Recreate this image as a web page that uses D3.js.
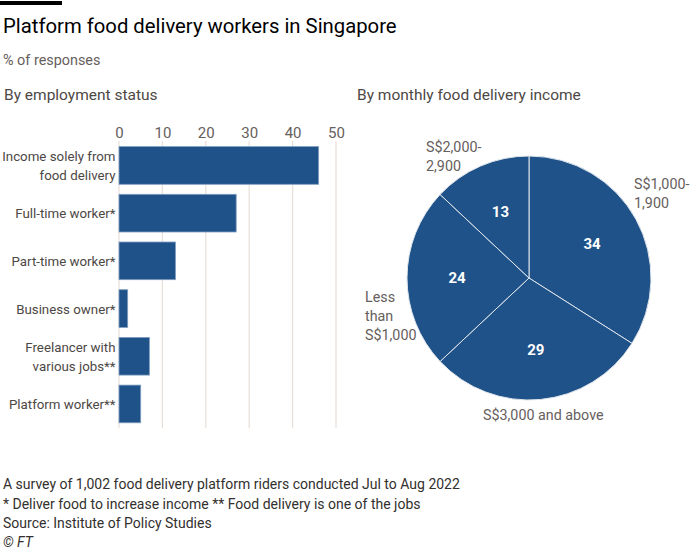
<!DOCTYPE html>
<html>
<head>
<meta charset="utf-8">
<script src="https://cdn.jsdelivr.net/npm/d3@7"></script>
<style>
  html, body { margin: 0; padding: 0; background: #ffffff; }
  svg { display: block; font-family: Roboto, "Noto Sans", sans-serif; }
</style>
</head>
<body>
<svg id="chart" width="700" height="555"></svg>
<script>
// ---- Data ----
const barCategories = ["Income solely from\nfood delivery", "Full-time worker*", "Part-time worker*", "Business owner*", "Freelancer with\nvarious jobs**", "Platform worker**"];
const barValues = [46, 27, 13, 2, 7, 5];
const barTicks = [0, 10, 20, 30, 40, 50];

const pieCategories = ["S$1,000-\n1,900", "S$3,000 and above", "Less\nthan\nS$1,000", "S$2,000-\n2,900"];
const pieValues = [34, 29, 24, 13];

const titleText = "Platform food delivery workers in Singapore";
const subtitleText = "% of responses";
const footerLines = [
  "A survey of 1,002 food delivery platform riders conducted Jul to Aug 2022",
  "* Deliver food to increase income ** Food delivery is one of the jobs",
  "Source: Institute of Policy Studies"
];

// ---- Styles ----
const BLUE = "#1f5289";
const GRID = "#e8dfd9";
const DARK = "#33302e";
const MID = "#4d4845";
const GREY = "#66605c";

const svg = d3.select("#chart");

// top black bar
svg.append("rect").attr("x", 0).attr("y", 1).attr("width", 62).attr("height", 4).attr("fill", "#000");

svg.append("text").attr("x", 3).attr("y", 33).attr("font-size", 20.3).attr("fill", "#000").text(titleText);
svg.append("text").attr("x", 3).attr("y", 65).attr("font-size", 14.4).attr("fill", GREY).text(subtitleText);
svg.append("text").attr("x", 4).attr("y", 100).attr("font-size", 15.5).attr("fill", MID).text("By employment status");
svg.append("text").attr("x", 357).attr("y", 100).attr("font-size", 15.5).attr("fill", MID).text("By monthly food delivery income");

// ---- Bar chart ----
const x = d3.scaleLinear().domain([0, 50]).range([119, 336]);
const y = d3.scaleBand().domain(barCategories).range([141.6, 427.8]).paddingInner(0.21).paddingOuter(0.105);

const gridTop = 141, gridBottom = 428;
const grid = svg.append("g");
grid.selectAll("line").data(barTicks).join("line")
  .attr("x1", d => x(d)).attr("x2", d => x(d))
  .attr("y1", gridTop).attr("y2", gridBottom)
  .attr("stroke", GRID).attr("stroke-width", 1.2);

const xAxis = svg.append("g").attr("transform", `translate(0,${gridTop})`)
  .call(d3.axisTop(x).tickValues(barTicks).tickSize(0).tickPadding(3).tickFormat(d3.format("d")));
xAxis.select(".domain").remove();
xAxis.selectAll("text").attr("font-size", 15).attr("fill", GREY).attr("font-family", "Roboto, sans-serif");

svg.append("g").selectAll("rect").data(barValues).join("rect")
  .attr("x", x(0))
  .attr("y", (d, i) => y(barCategories[i]))
  .attr("width", d => x(d) - x(0))
  .attr("height", y.bandwidth())
  .attr("fill", BLUE)
  .attr("stroke", "#7f9dc0").attr("stroke-width", 0.8);

const lab = svg.append("g").selectAll("text").data(barCategories).join("text")
  .attr("text-anchor", "end")
  .attr("font-size", 13.3)
  .attr("fill", MID);
lab.each(function(d) {
  const lines = d.split("\n");
  const cy = y(d) + y.bandwidth() / 2;
  d3.select(this).selectAll("tspan").data(lines).join("tspan")
    .attr("x", 115.5)
    .attr("y", (l, i) => cy + 5 + (i - (lines.length - 1) / 2) * 19)
    .text(l => l);
});

// ---- Pie chart ----
const cx = 529, cy = 278, R = 122;
const pie = d3.pie().sort(null).value(d => d)(pieValues);
const arc = d3.arc().innerRadius(0).outerRadius(R);
const labelArc = d3.arc().innerRadius(72).outerRadius(72);
const pg = svg.append("g").attr("transform", `translate(${cx},${cy})`);
pg.selectAll("path").data(pie).join("path")
  .attr("d", arc)
  .attr("fill", BLUE)
  .attr("stroke", "#dfe5ec").attr("stroke-width", 1);
pg.selectAll("text.val").data(pie).join("text")
  .attr("class", "val")
  .attr("transform", d => `translate(${labelArc.centroid(d)})`)
  .attr("text-anchor", "middle")
  .attr("dy", "0.36em")
  .attr("font-size", 15)
  .attr("font-weight", "bold")
  .attr("fill", "#fff")
  .text(d => d.data);

// outside labels: positions relative to pie centre
const outerPos = [
  { dx: 105, dy: -89 },
  { dx: -46, dy: 142 },
  { dx: -164, dy: 24 },
  { dx: -103, dy: -126 }
];
svg.append("g").selectAll("text").data(pieCategories).join("text")
  .attr("font-size", 14.3)
  .attr("fill", GREY)
  .each(function(d, i) {
    const lines = d.split("\n");
    const p = outerPos[i];
    d3.select(this).selectAll("tspan").data(lines).join("tspan")
      .attr("x", cx + p.dx)
      .attr("y", (l, j) => cy + p.dy + j * 19)
      .text(l => l);
  });

// ---- Footer ----
svg.append("g").selectAll("text").data(footerLines).join("text")
  .attr("x", 3).attr("y", (d, i) => 489 + i * 19.5)
  .attr("font-size", 14).attr("fill", DARK)
  .text(d => d);
svg.append("text").attr("x", 3).attr("y", 547).attr("font-size", 14)
  .attr("fill", DARK).attr("font-style", "italic").text("© FT");
</script>
</body>
</html>
